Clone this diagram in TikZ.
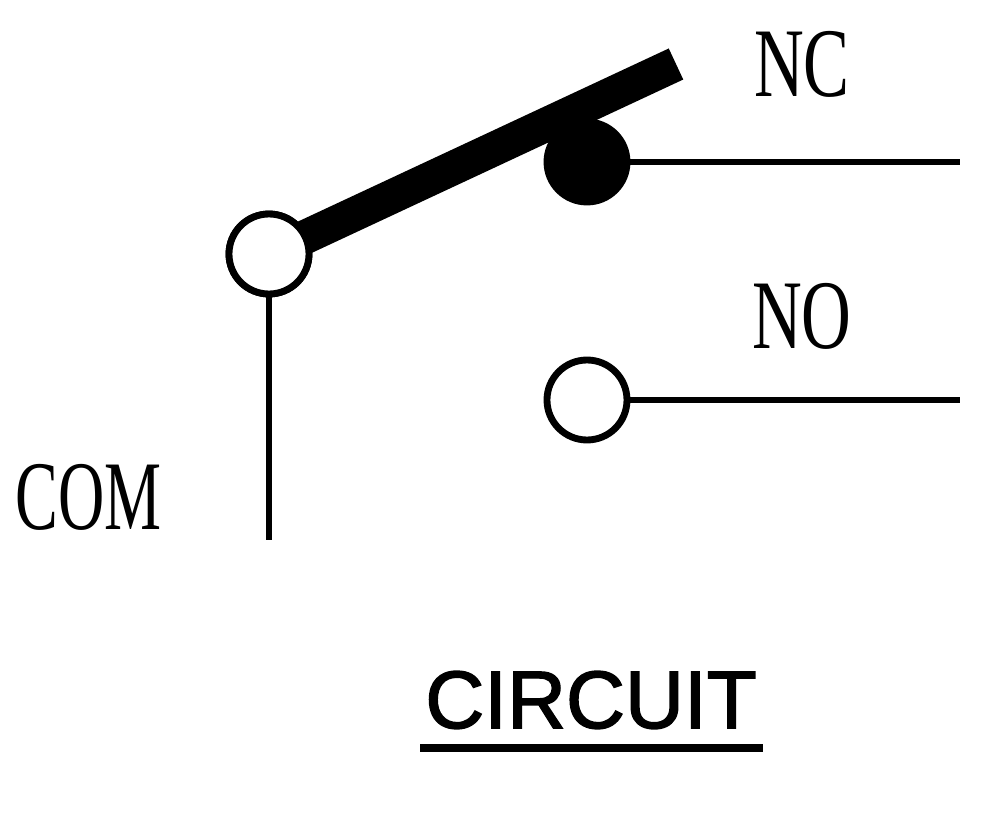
\documentclass[tikz,border=0pt]{standalone}
\usepackage{fontspec}
\setmainfont{Liberation Serif}
\newfontfamily\labelsans[FakeBold=1.8]{Liberation Sans}
\tikzset{
    contact/.style={circle, draw, line width=3.9pt, minimum size=1.6cm, inner sep=0pt, fill=white},
    wire/.style={line width=3.9pt},
    tag/.style={inner sep=0pt, xscale=0.7, font=\fontsize{56}{56}\selectfont}
}

\begin{document}
\begin{tikzpicture}[ ]
    \useasboundingbox (0,0) rectangle (19.88,16.62);

    \coordinate (tip) at (13.52,15.34);
    \coordinate (COMend) at (5.38,5.82);
    \coordinate (NCend) at (19.2,13.38);
    \coordinate (NOend) at (19.2,8.62);
    \coordinate (ruleL) at (8.4,1.66);
    \coordinate (ruleR) at (15.26,1.66);

    \node[contact, fill=black] at (11.74,13.38) (NCpin) {};
    \node[contact] at (11.74,8.62) (NOpin) {};
    \node[contact] at (5.38,11.54) (COMpin) {};

    \draw[line width=19.5pt] (COMpin.center) -- (tip);
    \node[contact] at (5.38,11.54) (COMtop) {};

    \draw[wire] (COMtop.south) -- (COMend);
    \draw[wire] (NCpin.east) -- (NCend);
    \draw[wire] (NOpin.east) -- (NOend);

    \node[tag] (NC) at (16.04,15.34) {NC};
    \node[tag] (NO) at (16.04,10.3) {NO};
    \node[tag, xscale=0.93] (COM) at (1.77,6.67) {COM};
    \node[inner sep=0pt, font=\labelsans\fontsize{46.5}{46.5}\selectfont] (title) at (11.82,2.62) {CIRCUIT};
    \draw[line width=4pt] (ruleL) -- (ruleR);

\end{tikzpicture}
\end{document}
